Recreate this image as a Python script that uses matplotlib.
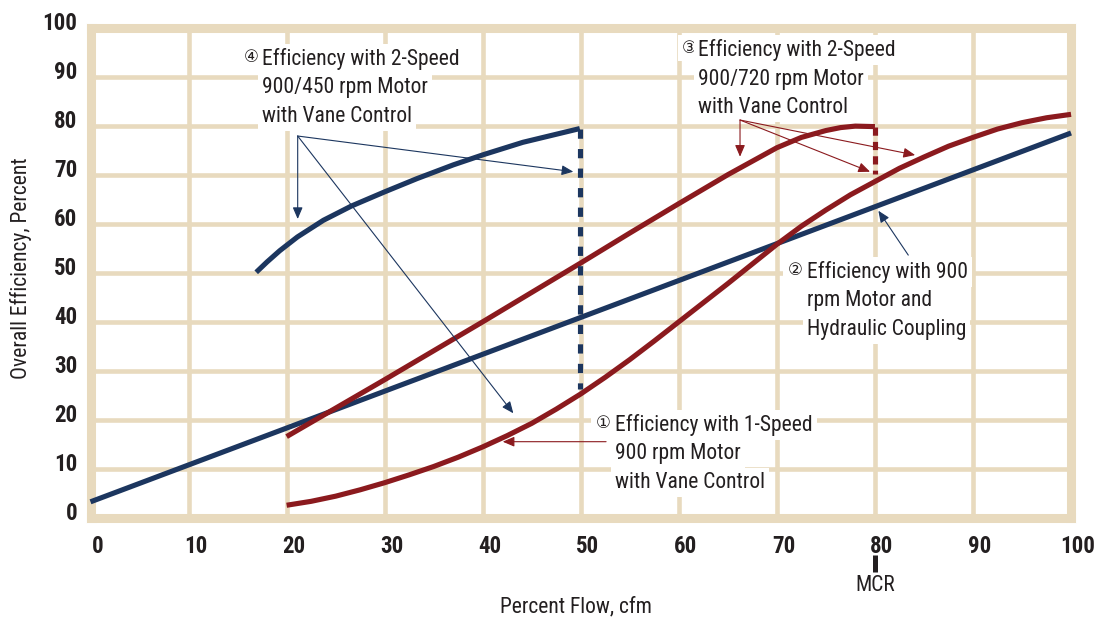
import matplotlib
matplotlib.use("Agg")
import matplotlib.pyplot as plt
import matplotlib.font_manager as fm
from matplotlib.transforms import ScaledTranslation

# values (percent flow -> overall efficiency)
flow_line = [0, 100]
eff_hydraulic = [3.3, 78.5]  # (2) 900 rpm motor + hydraulic coupling

flow_1sp = [20, 22.5, 25, 27.5, 30, 32.5, 35, 37.5, 40, 42.5, 45, 47.5, 50, 52.5, 55,
            57.5, 60, 65, 70, 72.5, 75, 77.5, 80, 82.5, 85, 87.5, 90, 92.5, 95, 97.5, 100]
eff_1sp = [2.6, 3.4, 4.45, 5.75, 7.2, 8.8, 10.5, 12.4, 14.5, 16.8, 19.3, 22.2, 25.3,
           28.7, 32.3, 36.1, 40.0, 47.8, 55.8, 59.5, 62.8, 65.9, 68.6, 71.3, 73.6,
           75.8, 77.6, 79.3, 80.6, 81.6, 82.3]

flow_720 = [20, 25, 30, 35, 40, 45, 50, 55, 60, 65, 70, 72.5, 75, 76.5, 78, 80]
eff_720 = [16.6, 22.4, 28.2, 34.1, 40.0, 46.0, 52.0, 58.1, 64.1, 70.0, 75.5,
           77.6, 79.0, 79.6, 79.9, 79.8]
drop_720 = [79.8, 70.2]

flow_450 = [16.9, 18.0, 19.3, 21.1, 23.75, 26.6, 30.0, 33.3, 37.0, 40.1, 44.1, 49.9]
eff_450 = [50.1, 52.2, 54.5, 57.3, 60.7, 63.6, 66.5, 69.2, 72.0, 74.1, 76.6, 79.4]
drop_450 = [79.4, 26.4]

mcr_flow = 80
ticks = list(range(0, 101, 10))

NAVY = "#1C365F"
RED = "#8B1A1E"
BEIGE = "#E8DABE"
INK = "#231F20"

# pick a narrow face if one is installed
fonts = fm.fontManager.ttflist
names = {f.name for f in fonts}
STRETCH = "normal"
for cand in ["Liberation Sans Narrow", "Roboto Condensed", "Open Sans Condensed",
             "Noto Sans Condensed", "DejaVu Sans Condensed"]:
    if cand in names:
        NARROW = cand
        break
else:
    if any(f.name == "DejaVu Sans" and "Condensed" in f.fname for f in fonts):
        NARROW, STRETCH = "DejaVu Sans", "condensed"
    else:
        NARROW = "Roboto"

fig = plt.figure(figsize=(11.01, 6.2), dpi=100)
ax = fig.add_axes([0.0822, 0.1645, 0.8906, 0.7911])
ax.set_xlim(0, 100)
ax.set_ylim(0, 100)

# grid + frame
ax.set_xticks(ticks)
ax.set_yticks(ticks)
ax.grid(True, color=BEIGE, lw=3.3, zorder=0.5)
ax.set_axisbelow(True)
for sp in ax.spines.values():
    sp.set_color(BEIGE)
    sp.set_linewidth(6.5)
ax.tick_params(length=0)
ax.tick_params(axis="x", pad=12)
ax.tick_params(axis="y", pad=9.5)
tfont = dict(fontfamily=NARROW, fontstretch=STRETCH, fontweight="bold", fontsize=16.5,
             color=INK)
ax.set_xticklabels([str(t) for t in ticks], **tfont)
ax.set_yticklabels([str(t) for t in ticks], **tfont)
dx = ScaledTranslation(0.07, 0, fig.dpi_scale_trans)
dy = ScaledTranslation(0, 0.07, fig.dpi_scale_trans)
for lab in ax.get_xticklabels():
    lab.set_transform(lab.get_transform() + dx)
for lab in ax.get_yticklabels():
    lab.set_transform(lab.get_transform() + dy)

# curves
kw = dict(lw=3.7, solid_capstyle="butt", clip_on=False, zorder=3)
ax.plot(flow_line, eff_hydraulic, color=NAVY, **kw)
ax.plot(flow_1sp, eff_1sp, color=RED, **kw)
ax.plot(flow_720, eff_720, color=RED, **kw)
ax.plot(flow_450, eff_450, color=NAVY, **kw)
ax.plot([flow_450[-1]] * 2, drop_450, color=NAVY, lw=3.7, dashes=(1.8, 2.0),
        dash_capstyle="butt", zorder=3)
ax.plot([flow_720[-1]] * 2, drop_720, color=RED, lw=3.7, dashes=(1.6, 1.2),
        dash_capstyle="butt", zorder=3)

nfont = dict(fontfamily=NARROW, fontstretch=STRETCH, fontsize=15.5, color=INK)

# MCR marker under the x axis
ax.plot([mcr_flow, mcr_flow], [-0.0754, -0.110], transform=ax.get_xaxis_transform(),
        clip_on=False, color=INK, lw=3.6, solid_capstyle="butt")
ax.text(mcr_flow, -0.137, "MCR", transform=ax.get_xaxis_transform(), ha="center",
        va="center", **nfont)


# annotation blocks
def block(num, lines, x, y, cx):
    box = dict(facecolor="white", edgecolor="none", pad=3)
    ax.text(cx, y, num, ha="center", va="center", fontsize=12, color=INK,
            family=["DejaVu Sans"], bbox=box, zorder=2)
    for i, line in enumerate(lines):
        ax.text(x, y - 1.63 - i * 5.8, line, ha="left", va="baseline", bbox=box,
                zorder=2, **nfont)


block("④", ["Efficiency with 2-Speed", "900/450 rpm Motor", "with Vane Control"],
      17.46, 94.05, 16.37)
block("③", ["Efficiency with 2-Speed", "900/720 rpm Motor", "with Vane Control"],
      61.99, 95.76, 61.05)
block("②", ["Efficiency with 900", "rpm Motor and", "Hydraulic Coupling"],
      73.04, 50.56, 71.85)
block("①", ["Efficiency with 1-Speed", "900 rpm Motor", "with Vane Control"],
      53.49, 19.43, 52.27)


def arrow(start, end, color):
    ax.annotate("", xy=end, xytext=start,
                arrowprops=dict(arrowstyle="-|>,head_length=0.7,head_width=0.3",
                                color=color, lw=0.8, shrinkA=0, shrinkB=0,
                                mutation_scale=10), zorder=4)


for tip in [(21.13, 60.96), (49.24, 70.6), (43.12, 21.35)]:
    arrow((21.13, 77.88), tip, NAVY)
for tip in [(66.24, 73.66), (79.5, 70.6), (84.1, 74.0)]:
    arrow((66.24, 81.14), tip, RED)
arrow((83.4, 53.6), (80.35, 62.65), NAVY)
arrow((52.58, 15.56), (42.04, 15.56), RED)

fig.text(576 / 1101, 1 - 607 / 620, "Percent Flow, cfm", ha="center", va="center",
         **nfont)
fig.text(21 / 1101, 1 - 268 / 620, "Overall Efficiency, Percent", ha="center",
         va="center", rotation=90, **nfont)

fig.savefig("out.png", dpi=100)
